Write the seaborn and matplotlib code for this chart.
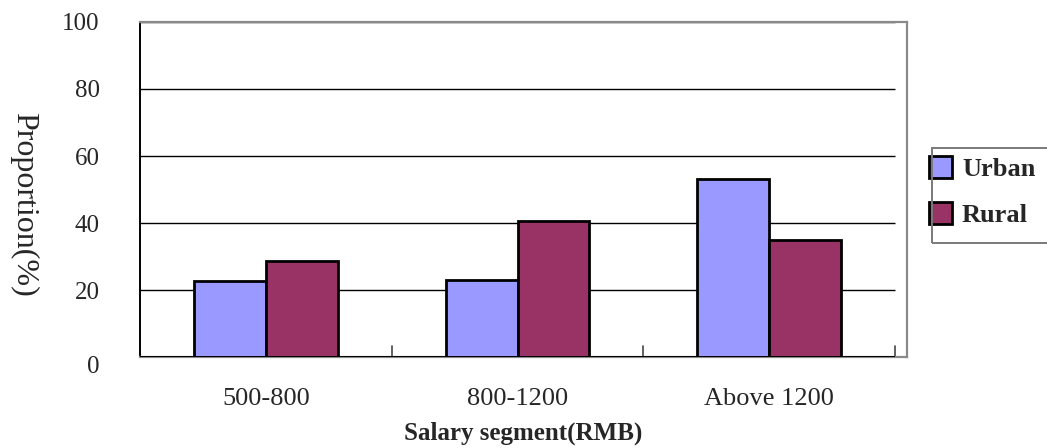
import matplotlib
matplotlib.use("Agg")
import matplotlib.pyplot as plt
import matplotlib.patches as mpatches
from matplotlib.transforms import ScaledTranslation
import seaborn as sns
import pandas as pd

segments = ["500-800", "800-1200", "Above 1200"]
urban = [22.8, 23.1, 53.0]
rural = [28.8, 40.7, 34.9]
groups = ["Urban", "Rural"]
colors = ["#9999FF", "#993366"]
yticks = [0, 20, 40, 60, 80, 100]

df = pd.DataFrame({
    "segment": segments * 2,
    "value": urban + rural,
    "group": [groups[0]] * len(segments) + [groups[1]] * len(segments),
})

sns.set_style("white")
plt.rcParams["font.family"] = ["Liberation Serif", "DejaVu Serif"]

fig = plt.figure(figsize=(10.47, 4.48), dpi=100)
ax = fig.add_axes([0.1337, 0.2031, 0.7326, 0.7478])

sns.barplot(data=df, x="segment", y="value", hue="group", order=segments,
            hue_order=groups, palette=colors, width=0.572, saturation=1,
            edgecolor="black", linewidth=2.0, ax=ax, zorder=3)

# category area ends a little before the plot-area border on the right
xmax = 2.5 + 12 / 251.7
ax.set_ylim(0, 100)
ax.set_xlim(-0.5, xmax)
ax.set_yticks(yticks)
ax.set_yticklabels([str(v) for v in yticks], fontsize=18)
ax.hlines(yticks[1:], -0.5, 2.5, color="black", lw=1.0, zorder=1)
ax.hlines(0, -0.5, 2.5, color="black", lw=1.4, zorder=4)

ax.tick_params(axis="y", length=0, pad=29)
ax.tick_params(axis="x", length=0, pad=22, labelsize=19)
for b in [0.5, 1.5, 2.5]:
    ax.plot([b, b], [0, 3.3], color="#444444", lw=1.2, zorder=2)

# shift the "0" label down slightly
lbl0 = ax.get_yticklabels()[0]
lbl0.set_transform(lbl0.get_transform() + ScaledTranslation(0, -7 / 100, fig.dpi_scale_trans))

for s in ["top", "right", "bottom"]:
    ax.spines[s].set_color("#8a8a8a")
    ax.spines[s].set_linewidth(1.6)
ax.spines["left"].set_color("black")
ax.spines["left"].set_linewidth(1.4)

ax.set_xlabel("Salary segment(RMB)", fontsize=18, fontweight="bold", labelpad=9)
ax.set_ylabel("Proportion(%)", fontsize=23, rotation=270, va="center")
ax.yaxis.set_label_coords(-0.152, 0.456)

# legend frame and entries
frame = mpatches.Rectangle((932 / 1047, 1 - 243 / 448), 0.2, 95 / 448,
                           transform=fig.transFigure, fill=False,
                           edgecolor="#7a7a7a", lw=1.4, zorder=0)
fig.patches.append(frame)
leg = ax.legend(loc="upper left", bbox_to_anchor=(929 / 1047, 1 - 156 / 448),
                bbox_transform=fig.transFigure, frameon=False,
                prop={"weight": "bold", "size": 19}, handlelength=0.87,
                handleheight=0.91, handletextpad=0.38, labelspacing=0.78,
                borderpad=0, borderaxespad=0)
for h in leg.legend_handles:
    h.set_edgecolor("black")
    h.set_linewidth(2.0)

fig.savefig("out.png", dpi=100)
